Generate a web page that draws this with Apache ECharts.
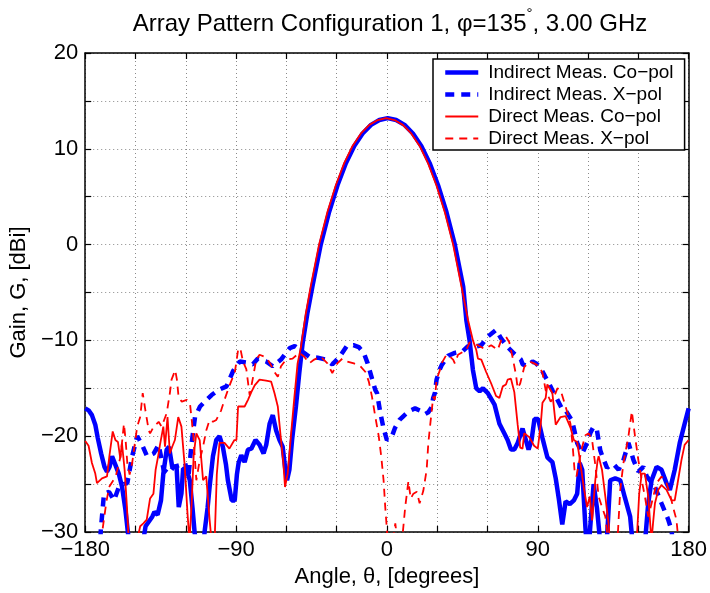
<!DOCTYPE html>
<html>
<head>
<meta charset="utf-8">
<title>Array Pattern Configuration 1</title>
<script src="https://cdn.jsdelivr.net/npm/echarts@6/dist/echarts.min.js"></script>
<style>
  html, body { margin: 0; padding: 0; background: #fff; }
  #chart { width: 710px; height: 593px; }
</style>
</head>
<body>
<div id="chart"></div>
<script>
// Measured gain patterns, [angle in degrees, gain in dBi]
const indirectCoPol = [
  [-180,-17.1],[-178,-17.3],[-176,-17.8],[-174,-18.8],[-172.5,-20.2],[-170.5,-21.8],[-168.5,-23.2],[-167,-23.7],
  [-165.5,-23.2],[-164,-22.1],[-162,-23],[-160,-23.9],[-158,-25.3],[-156,-27.7],[-154.5,-30.1],[-152,-33],
  [-148,-34],[-145,-30.5],[-144,-29.4],[-142,-28.9],[-140,-28.4],[-138.7,-27.9],[-136.8,-28.2],[-134.8,-26.7],
  [-133.4,-23.9],[-131.4,-21.4],[-130,-21.1],[-128.1,-23.2],[-125.5,-23.2],[-124.2,-27.4],[-122.6,-26],
  [-121.6,-23.4],[-119.6,-23.4],[-117.6,-24.6],[-116,-27.5],[-114.7,-30.1],[-112,-34],[-109.5,-32],[-108.8,-30],
  [-107,-27.5],[-105.8,-25.3],[-103.8,-22.1],[-101.8,-20.4],[-99.9,-20],[-97.9,-21.1],[-96,-23],[-94.9,-24.6],
  [-92.6,-26.7],[-90.8,-26.7],[-89.5,-24],[-88.5,-22.8],[-86.9,-22],[-84.9,-22.7],[-82.9,-21.4],[-80.9,-21.3],
  [-78.4,-20.4],[-76,-20.9],[-73.6,-21.8],[-72,-20.9],[-70,-18.7],[-68.1,-17.8],[-66.1,-19.4],[-64.1,-20.4],
  [-62.2,-21.1],[-60.6,-23.5],[-59.6,-24.6],[-58.2,-23.5],[-56.6,-20.4],[-54.3,-16.9],[-52.3,-13.4],[-50.3,-10.3],
  [-47.5,-7.2],[-44.5,-4.4],[-39.5,0],[-34.5,3.4],[-29.5,6.2],[-24.5,8.5],[-19.5,10.3],[-14.5,11.6],[-9.5,12.5],
  [-4.5,13.0],[0.5,13.2],[5.5,13.0],[10.5,12.5],[15.5,11.6],[20.5,10.3],[25.5,8.5],[30.5,6.2],[35.5,3.4],
  [40.5,0],[45.5,-4.4],[47.4,-7.9],[49.3,-10],[51.3,-13.1],[53.3,-15],[55.3,-15.3],[57.3,-15],[60.2,-15.5],
  [64.2,-16.7],[67.1,-18.7],[70,-19.7],[72,-20.4],[74,-21.4],[76,-21.4],[78,-20.7],[80.9,-19.2],[82.9,-20.4],
  [84.5,-21.4],[86.3,-20.4],[88,-18.2],[90.2,-18.2],[92.8,-20.2],[95.7,-22.2],[98.7,-22.7],[100.7,-24.4],
  [102.6,-26.6],[104.6,-29.2],[106.6,-26.8],[109.1,-27.1],[111.5,-26.7],[113.5,-26],[115,-22.8],[116.5,-23.5],
  [118.4,-29.5],[119.8,-33],[121.5,-29],[123.3,-25],[125.3,-27.5],[127.5,-31.5],[129.5,-34],[131.5,-30],
  [133.2,-24.6],[136.2,-24.4],[139.2,-24.6],[142.1,-26.5],[145.1,-28.4],[146.5,-31],[150,-34],[154,-31],
  [155.9,-27],[157.9,-24.6],[160.9,-23.2],[163.8,-23.5],[166.8,-24.9],[168.8,-25.6],[171.7,-23.5],[174.7,-20.7],
  [177.6,-18.7],[180,-17.1]
];

const indirectXPol = [
  [-172,-34],[-170.7,-29.8],[-168.8,-26],[-165.8,-25.8],[-162.8,-26.7],[-159.9,-25.3],[-157,-25],[-154.9,-24.9],
  [-152,-22.1],[-149,-20],[-146.1,-20.9],[-143.1,-22.1],[-139.1,-21.8],[-136.2,-20.9],[-133.2,-23.5],[-130.3,-23.9],
  [-127.3,-23.2],[-123.3,-23],[-120.4,-22.8],[-118.4,-24.2],[-116.5,-20.7],[-114.5,-18],[-111.5,-16.9],
  [-107.6,-16.2],[-104.6,-15.7],[-100.7,-15.2],[-95.7,-14.8],[-91.8,-13.2],[-87.8,-12.2],[-84,-12.3],[-80,-12.5],
  [-77,-11.9],[-72.1,-12.2],[-68.1,-12.7],[-63.2,-12],[-58,-10.8],[-55,-10.6],[-50.3,-11.2],[-46.4,-11.7],
  [-41.4,-11.8],[-36.5,-12],[-32.6,-12.5],[-28.6,-11.8],[-24,-10.6],[-20,-10.5],[-16.8,-10.7],[-13.8,-11.3],
  [-11.5,-12.4],[-8.9,-14],[-6.9,-15.2],[-5.9,-15.5],[-4,-17.5],[-2,-19.2],[0,-20.4],[1,-20.6],[3,-20],
  [4.9,-19.1],[7.5,-18.3],[9.9,-17.9],[13,-17.4],[16.8,-17.1],[20.7,-17.4],[22.7,-17.7],[24.7,-17.5],[26.6,-17],
  [27.6,-16],[28.6,-15.5],[29.6,-14.1],[31.6,-13],[32.6,-12.6],[36.5,-11.6],[40.5,-11.3],[45.4,-11.1],
  [48.4,-10.6],[51.3,-10.7],[56.3,-10.5],[60.2,-9.6],[65.1,-8.9],[68.1,-9.8],[72,-10.7],[76,-11.4],[79.9,-12],
  [81,-12.5],[83.9,-12.7],[86.9,-12.2],[89,-12.4],[91.8,-12.9],[94.5,-13.8],[96.7,-14.5],[99,-15.3],
  [101.7,-16.2],[104.6,-17.2],[106.6,-17.3],[110.5,-18.4],[113.5,-20.7],[116.5,-21.8],[119.4,-20.7],
  [121.5,-19.6],[123.3,-19],[125.3,-19.4],[127.3,-21.5],[128.3,-22],[131.3,-23.3],[133.5,-23],[135.2,-22.9],
  [138.2,-23.5],[141.1,-22.5],[144.1,-20.7],[147.1,-22.5],[150,-23.7],[153,-23.2],[155,-24.2],[159.9,-25.3],
  [163.8,-27],[167.8,-28.7],[169.8,-29.8],[171.5,-33],[173,-34]
];

const directCoPol = [
  [-180,-20.5],[-178,-21],[-176,-22.8],[-174,-23.9],[-173,-24.9],[-170,-24.4],[-167,-24.2],[-165.6,-22.1],
  [-163.6,-19.5],[-162,-20.4],[-160.5,-20.6],[-159.1,-22.3],[-158.1,-20.7],[-156.5,-23.5],[-155.1,-27.4],
  [-154,-31],[-151.5,-34],[-149.2,-31],[-147.2,-29.4],[-145.3,-29.1],[-143.3,-28.7],[-141.3,-26.5],[-139.3,-26],
  [-138,-23.5],[-136.4,-22],[-135.4,-20.9],[-133.4,-19],[-132.4,-21.1],[-130.9,-18],[-129.5,-21.8],
  [-128.1,-21.1],[-126.5,-20.4],[-124.5,-18],[-122.6,-19],[-120.6,-23.2],[-119,-28],[-117.8,-31],[-116.5,-27],
  [-115.3,-22],[-113.7,-19.7],[-111.7,-20.4],[-109.7,-24.6],[-107.8,-24.2],[-105.8,-28.7],[-104.6,-31],
  [-102.8,-31],[-101.5,-24],[-99.9,-20.7],[-96.9,-20.7],[-94,-21.3],[-91,-20.4],[-89.8,-20.4],[-88.8,-16.9],
  [-84.9,-16.9],[-82.9,-16.2],[-80.9,-15.4],[-78.9,-14.7],[-76,-14.1],[-72.1,-14.2],[-69.1,-14.3],[-67.1,-15.5],
  [-65.1,-16.9],[-63.2,-20.4],[-61.8,-22.8],[-60.8,-25.3],[-59.2,-23.9],[-57.3,-20],[-55.2,-15.9],[-53.3,-12.4],
  [-51.3,-10.7],[-48.5,-7.3],[-45.5,-4.4],[-40.5,0],[-35.5,3.4],[-30.5,6.2],[-25.5,8.5],[-20.5,10.3],
  [-15.5,11.6],[-10.5,12.5],[-5.5,13.0],[-0.5,13.2],[4.5,13.0],[9.5,12.5],[14.5,11.6],[19.5,10.3],[24.5,8.5],
  [29.5,6.2],[34.5,3.4],[39.5,0],[44.5,-4.4],[48.4,-7.9],[51.3,-10],[53.3,-11],[54.3,-11.9],[56.3,-12],
  [59.2,-13.3],[62.2,-14.5],[65.1,-15.8],[67.1,-16],[69.1,-14.8],[71,-14.6],[72,-14.1],[74,-14],[76,-15.4],
  [78,-18.8],[79.5,-21.2],[80.9,-21.3],[81.9,-19.7],[82.9,-19.8],[84.9,-20.1],[87.8,-21],[90,-21.3],[91.8,-18.7],
  [92.8,-16.5],[94.7,-16],[95.7,-14.6],[96.7,-14.7],[97.7,-15.2],[98.7,-15.5],[100.7,-18.8],[103.6,-18],
  [106.6,-17.9],[109.5,-19.1],[111.5,-20.4],[113.5,-20.6],[114.5,-20.4],[115.4,-22.8],[116.5,-24.2],
  [117.4,-25.3],[119.4,-27.4],[121,-26.3],[122.4,-28.8],[124.3,-24.6],[125.7,-22.5],[126.3,-22.1],[128.3,-23.5],
  [130.3,-26.3],[132.2,-29.1],[133.5,-32],[136,-34],[146,-34],[149,-31],[150.5,-26],[152,-23.9],[153.9,-23.9],
  [155.9,-26.3],[156.9,-28.7],[157.8,-31],[158.8,-29],[159.9,-27],[161.9,-25.6],[163.8,-25.1],[166.8,-25.6],
  [169.8,-26.7],[171.7,-26.7],[173.7,-24.6],[175.7,-22.5],[177.6,-20.9],[180,-20.4]
];

const directXPol = [
  [-171,-34],[-169.7,-29.8],[-167.5,-27],[-165.8,-25.3],[-161.8,-24.2],[-158.9,-22.1],[-156.9,-18.7],
  [-155.9,-20.4],[-154.9,-22.8],[-153.5,-24],[-152,-22.8],[-149,-19],[-147.2,-18],[-145.7,-15.5],[-144.1,-17.3],
  [-142.1,-19.4],[-141.3,-19.7],[-139.1,-19],[-136.2,-18.5],[-134.4,-19],[-131.4,-17.6],[-129.5,-15.5],
  [-128.5,-14.1],[-126.3,-13.1],[-125.3,-14.1],[-124.3,-15.9],[-122.4,-16.4],[-119.4,-16.2],[-117.5,-16.6],
  [-115.6,-19.7],[-113.7,-24.6],[-111.7,-22.5],[-109.7,-21.1],[-107.8,-19.4],[-105.8,-18.3],[-103.8,-18.5],
  [-101.8,-18.3],[-98.9,-17.3],[-96.9,-16.2],[-94.9,-15.2],[-93,-14.3],[-90.8,-13.4],[-88.8,-11],[-87.5,-10.8],
  [-85.9,-12.2],[-83.9,-13],[-81.9,-15.7],[-80.9,-15.5],[-79.5,-13.5],[-78,-12],[-76,-11.5],[-73,-11.7],
  [-71.1,-12],[-69.1,-12.6],[-67.1,-13.3],[-65.1,-13.8],[-63.2,-12.7],[-60.2,-12],[-56.3,-11.9],[-52.3,-11.3],
  [-49.3,-11.7],[-46.4,-12.4],[-43.4,-12],[-39.5,-11.7],[-35.5,-12.4],[-32.6,-13.4],[-29.6,-12.4],[-26.6,-11.9],
  [-23.7,-12.2],[-19.7,-12.4],[-15.8,-12.7],[-12.8,-13.3],[-10.8,-14.3],[-8.9,-15.9],[-6.9,-18],[-4.9,-20],
  [-3.4,-22.1],[-2,-24.6],[-1,-27.4],[0,-29.8],[1.5,-34],[3.5,-31],[5,-29.1],[6.5,-31.5],[8,-33],[9.5,-30],
  [10.9,-27.4],[12.8,-24.7],[14.2,-26.5],[15.8,-26],[17.8,-25.8],[19.5,-27],[21.7,-25.7],[23.7,-23.5],
  [24.7,-20.7],[25.7,-19],[27.6,-15.9],[28.6,-16.2],[29.6,-14.1],[31.6,-13.1],[32.6,-12.4],[35.5,-11.5],
  [37,-11.6],[39.5,-12],[40.5,-12.4],[42.4,-11.5],[45.4,-11.2],[47.4,-11],[49.3,-10.2],[50.3,-10.3],
  [54.3,-10.5],[58.3,-10.9],[62.2,-10.5],[66.1,-11],[68.1,-10],[71,-9.6],[73,-10.2],[75,-11.8],[77,-13.6],
  [78,-15],[79.5,-14.5],[81.9,-12.8],[84.9,-12.2],[87.8,-12.4],[90.8,-12.7],[92.8,-13.4],[94.7,-15.2],
  [97.7,-16.4],[99.7,-15.9],[101.7,-15],[103.6,-15.2],[106.6,-16.9],[109.5,-18.7],[110.8,-21],[111.9,-23.5],
  [113.1,-24.2],[114.5,-22.8],[116.5,-21.1],[118.4,-19.9],[120.4,-19.7],[122.4,-20.4],[124.3,-23],
  [126.3,-26.3],[128.5,-27.5],[130.3,-28.4],[132,-31],[134,-34],[137.5,-31],[139.2,-25.6],[141.1,-22.8],
  [144.1,-20],[146.1,-17.4],[148,-20],[150,-22.5],[152,-24.6],[153.9,-26.3],[155.9,-28.4],[157,-28.5],
  [158.9,-26.3],[160.9,-24.9],[163.8,-24.2],[166.8,-24.9],[168.8,-26],[170.7,-27.4],[172.7,-28.7],
  [173.7,-30.5],[175,-34]
];

const seriesNames = [
  'Indirect Meas. Co\u2212pol',
  'Indirect Meas. X\u2212pol',
  'Direct Meas. Co\u2212pol',
  'Direct Meas. X\u2212pol'
];

// Axis ranges and tick spacing
const angleRange = [-180, 180];
const angleStep = 30;
const angleLabelStep = 90;
const gainRange = [-30, 20];
const gainStep = 5;
const gainLabelStep = 10;

const FONT = "'Liberation Sans', Arial, Helvetica, sans-serif";
const minus = v => String(v).replace('-', '\u2212');

const gridLine = { show: true, lineStyle: { color: '#8a8a8a', width: 1, type: [1, 3] } };
const frameLine = { show: true, onZero: false, lineStyle: { color: '#000', width: 1.5 } };
const innerTicks = { show: true, inside: true, length: 6, lineStyle: { color: '#000', width: 1.2 } };

const chart = echarts.init(document.getElementById('chart'), null, { renderer: 'canvas' });

function lineSeries(name, data, color, width, dash, z) {
  return {
    name: name,
    type: 'line',
    data: data,
    symbol: 'none',
    showSymbol: false,
    clip: true,
    z: z,
    color: color,
    lineStyle: { color: color, width: width, type: dash },
    itemStyle: { color: color },
    emphasis: { disabled: true },
    animation: false
  };
}

chart.setOption({
  animation: false,
  backgroundColor: '#fff',
  title: {
    text: '{t|Array Pattern Configuration 1, \u03c6=135}{s|\u00b0}{t|, 3.00 GHz}',
    left: 385,
    top: 1,
    textAlign: 'center',
    textStyle: {
      fontWeight: 'normal',
      rich: {
        t: { fontFamily: FONT, fontSize: 24, fontWeight: 'normal', color: '#000', lineHeight: 30, verticalAlign: 'bottom' },
        s: { fontFamily: FONT, fontSize: 15, fontWeight: 'normal', color: '#000', lineHeight: 30, verticalAlign: 'top' }
      }
    }
  },
  legend: {
    orient: 'vertical',
    left: 433,
    top: 59,
    itemWidth: 33,
    itemHeight: 12,
    itemGap: 3,
    padding: [4, 11, 2, 10],
    backgroundColor: '#fff',
    borderColor: '#000',
    borderWidth: 1.5,
    borderRadius: 0,
    selectedMode: false,
    itemStyle: { opacity: 0, borderWidth: 0 },
    lineStyle: { width: 'inherit' },
    textStyle: { fontFamily: FONT, fontSize: 19, color: '#000', lineHeight: 17, padding: [0, 0, 0, 5] },
    data: seriesNames
  },
  grid: { left: 81, right: 21, top: 53, bottom: 61, containLabel: false },
  xAxis: [
    {
      type: 'value',
      min: angleRange[0], max: angleRange[1], interval: angleStep,
      position: 'bottom',
      name: 'Angle, \u03b8, [degrees]',
      nameLocation: 'middle',
      nameGap: 34,
      nameTextStyle: { fontFamily: FONT, fontSize: 22, color: '#000' },
      axisLine: frameLine,
      axisTick: innerTicks,
      axisLabel: {
        fontFamily: FONT, fontSize: 22, color: '#000', margin: 7,
        formatter: v => (v % angleLabelStep === 0 ? minus(v) : '')
      },
      splitLine: gridLine
    },
    {
      type: 'value',
      min: angleRange[0], max: angleRange[1], interval: angleStep,
      position: 'top',
      axisLine: frameLine,
      axisTick: innerTicks,
      axisLabel: { show: false },
      splitLine: { show: false }
    }
  ],
  yAxis: [
    {
      type: 'value',
      min: gainRange[0], max: gainRange[1], interval: gainStep,
      position: 'left',
      name: 'Gain, G, [dBi]',
      nameLocation: 'middle',
      nameGap: 40,
      nameTextStyle: { fontFamily: FONT, fontSize: 22, color: '#000' },
      axisLine: frameLine,
      axisTick: innerTicks,
      axisLabel: {
        fontFamily: FONT, fontSize: 22, color: '#000', margin: 7,
        formatter: v => (v % gainLabelStep === 0 ? minus(v) : '')
      },
      splitLine: gridLine
    },
    {
      type: 'value',
      min: gainRange[0], max: gainRange[1], interval: gainStep,
      position: 'right',
      axisLine: frameLine,
      axisTick: innerTicks,
      axisLabel: { show: false },
      splitLine: { show: false }
    }
  ],
  series: [
    lineSeries(seriesNames[0], indirectCoPol, '#0000ff', 4.5, 'solid', 2),
    lineSeries(seriesNames[1], indirectXPol, '#0000ff', 4.5, [9, 7], 3),
    lineSeries(seriesNames[2], directCoPol, '#ff0000', 1.8, 'solid', 4),
    lineSeries(seriesNames[3], directXPol, '#ff0000', 1.8, [8, 6], 5)
  ]
});
</script>
</body>
</html>
